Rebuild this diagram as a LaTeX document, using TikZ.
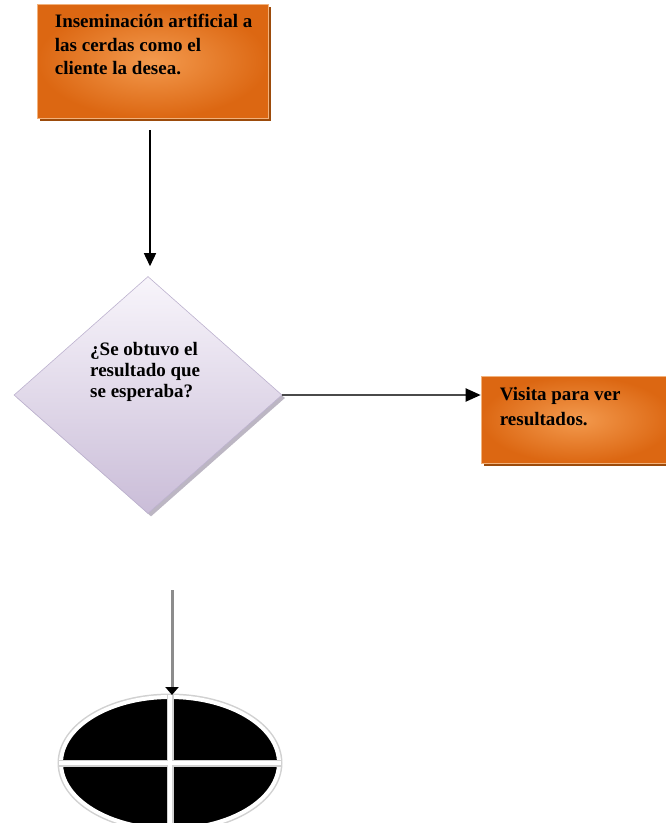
\documentclass[tikz,border=0pt]{standalone}
\usepackage{fontspec}
\setmainfont{Liberation Serif}
\usetikzlibrary{arrows.meta,shapes.geometric,shadows,calc}

\definecolor{boxedge}{HTML}{DC6712}
\definecolor{boxglow}{HTML}{F39A4E}
\definecolor{boxrim}{HTML}{F2B27C}
\definecolor{boxshadow}{HTML}{9C4B0B}
\definecolor{diamtop}{HTML}{F8F5FB}
\definecolor{diambot}{HTML}{CABDD8}
\definecolor{diamline}{HTML}{BDB2CF}
\definecolor{diamshadow}{HTML}{ABA4B4}
\definecolor{linkgray}{HTML}{4A4A4A}
\definecolor{stemgray}{HTML}{8C8C8C}

\tikzset{
  processbox/.style={rectangle, inner sep=0pt, draw=boxrim, line width=0.6pt,
    outer color=boxedge, inner color=boxglow,
    drop shadow={shadow xshift=3pt, shadow yshift=-3pt, fill=boxshadow, opacity=1}},
  decisionbox/.style={diamond, inner sep=0pt, draw=diamline, line width=0.6pt,
    top color=diamtop, bottom color=diambot,
    drop shadow={shadow xshift=3pt, shadow yshift=-3pt, fill=diamshadow, opacity=0.8}},
  endmark/.style={ellipse, inner sep=0pt, fill=black, draw=white, line width=4pt,
    preaction={draw=black!18, line width=7pt}},
  boxtext/.style={inner sep=0pt, align=left, font=\bfseries\fontsize{19}{23.5}\selectfont},
  flow/.style={line width=1.6pt, -{Triangle[width=12pt,length=13pt]}},
}

\begin{document}
\begin{tikzpicture}[x=1pt, y=1pt]
  \useasboundingbox (0,0) rectangle (666,-823);

  % opening step
  \node[processbox, minimum width=231pt, minimum height=114pt] (insem) at (152.5,-61) {};
  \node[boxtext, anchor=north west] (insemtext) at ($(insem.north west)+(18,-10.5)$)
    {Inseminación artificial a\\las cerdas como el\\cliente la desea.};

  % decision
  \node[decisionbox, minimum width=268pt, minimum height=237pt] (decision) at (148,-395) {};
  \node[boxtext, anchor=north west, font=\bfseries\fontsize{19}{21}\selectfont] (decisiontext)
    at (90,-342) {¿Se obtuvo el\\resultado que\\se esperaba?};

  % follow-up visit
  \node[processbox, minimum width=192pt, minimum height=87pt] (visita) at (577,-419.5) {};
  \node[boxtext, anchor=north west, font=\bfseries\fontsize{19}{25}\selectfont] (visitatext)
    at ($(visita.north west)+(19,-11)$) {Visita para ver\\resultados.};

  % terminal symbol
  \node[endmark, minimum width=218pt, minimum height=132pt] (fin) at (170,-763) {};
  \draw[black!18, line width=7pt] (fin.north) -- (fin.south) (fin.west) -- (fin.east);
  \draw[white, line width=4.5pt] (fin.north) -- (fin.south) (fin.west) -- (fin.east);

  % connectors
  \draw[flow, black] ($(insem.south -| decision.north)+(2,-12)$) -- ($(decision.north)+(2,10)$);
  \draw[flow, linkgray, line width=2pt, -{Triangle[width=13pt,length=15pt,color=black]}]
    (decision.east) -- (decision.east -| visita.west);
  \coordinate (stem) at (172,-590);
  \draw[stemgray, line width=3pt, -{Triangle[width=13pt,length=8pt,color=black]}]
    (stem) -- (stem |- fin.north);
\end{tikzpicture}
\end{document}
